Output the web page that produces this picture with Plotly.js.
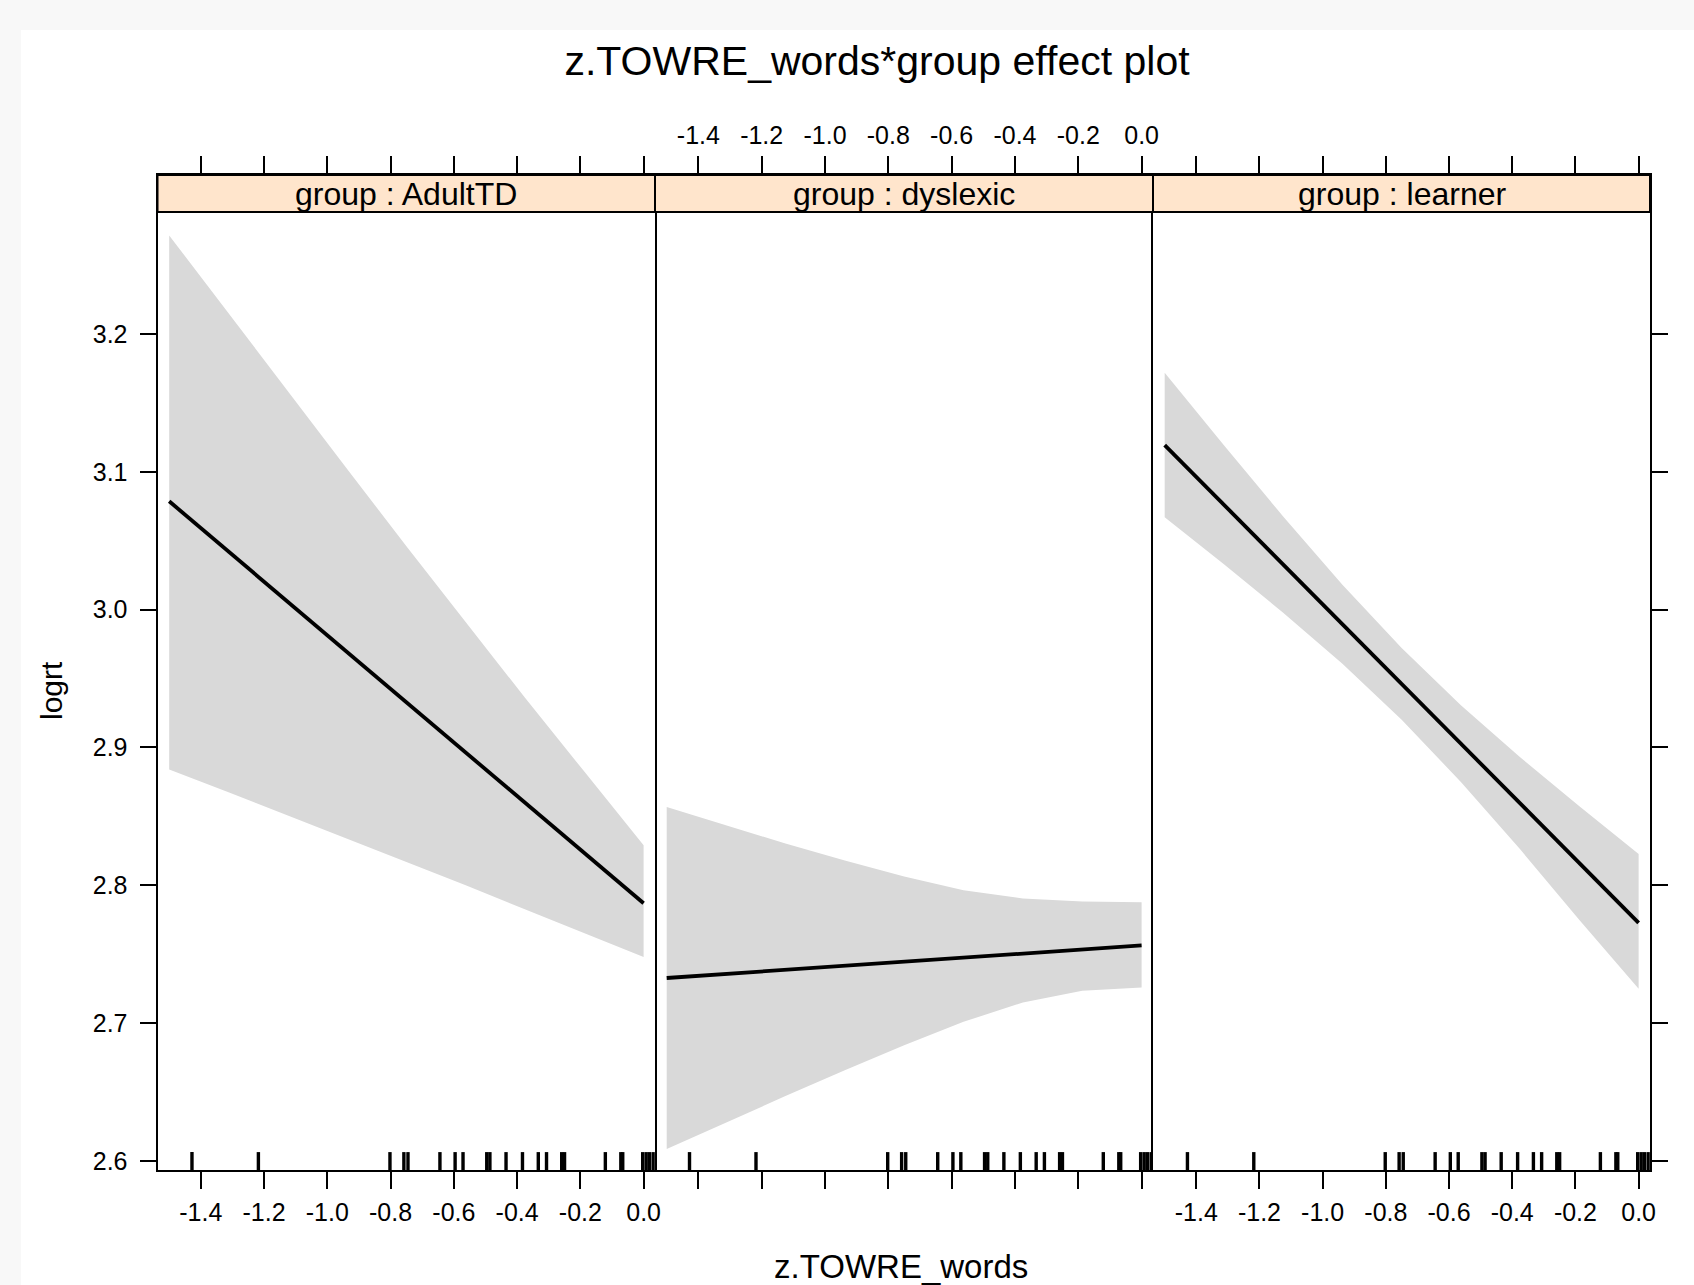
<!DOCTYPE html>
<html>
<head>
<meta charset="utf-8">
<script src="https://cdn.plot.ly/plotly-3.0.1.min.js"></script>
<style>html,body{margin:0;padding:0;background:#f8f8f8;}</style>
</head>
<body>
<div id="chart" style="width:1694px;height:1285px;"></div>
<script>
// ---- data ----
const groups = ["AdultTD", "dyslexic", "learner"];
const stripLabels = ["group : AdultTD", "group : dyslexic", "group : learner"];
const xGrid = [-1.5, -1.3125, -1.125, -0.9375, -0.75, -0.5625, -0.375, -0.1875, 0.0];

const fitAdultTD   = [3.0786, 3.0421, 3.0057, 2.9692, 2.9328, 2.8963, 2.8599, 2.8234, 2.7870];
const upperAdultTD = [3.2715, 3.2148, 3.1580, 3.1020, 3.0460, 2.9910, 2.9360, 2.8825, 2.8290];
const lowerAdultTD = [2.8840, 2.8675, 2.8510, 2.8340, 2.8170, 2.8000, 2.7830, 2.7655, 2.7480];

const fitDyslexic   = [2.7328, 2.7358, 2.7387, 2.7417, 2.7446, 2.7476, 2.7505, 2.7535, 2.7564];
const upperDyslexic = [2.8568, 2.8435, 2.8303, 2.8180, 2.8065, 2.7965, 2.7905, 2.7882, 2.7877];
const lowerDyslexic = [2.6088, 2.6281, 2.6471, 2.6659, 2.6840, 2.7010, 2.7150, 2.7235, 2.7258];

const fitLearner   = [3.1194, 3.0761, 3.0327, 2.9894, 2.9461, 2.9028, 2.8595, 2.8161, 2.7728];
const upperLearner = [3.1718, 3.1192, 3.0676, 3.0181, 2.9721, 2.9306, 2.8929, 2.8574, 2.8228];
const lowerLearner = [3.0670, 3.0330, 2.9978, 2.9607, 2.9201, 2.8750, 2.8261, 2.7748, 2.7250];

const rugValues = [-1.428, -1.218, -0.802, -0.758, -0.745, -0.644, -0.596, -0.571,
                   -0.496, -0.486, -0.435, -0.383, -0.333, -0.307, -0.259, -0.250,
                   -0.121, -0.072, -0.066, -0.003, 0.008, 0.018, 0.030];

const xTickVals = [-1.4, -1.2, -1.0, -0.8, -0.6, -0.4, -0.2, 0.0];
const xTickText = ["-1.4", "-1.2", "-1.0", "-0.8", "-0.6", "-0.4", "-0.2", "0.0"];
const yTickVals = [2.6, 2.7, 2.8, 2.9, 3.0, 3.1, 3.2];
const yTickText = ["2.6", "2.7", "2.8", "2.9", "3.0", "3.1", "3.2"];

const chartTitle = "z.TOWRE_words*group effect plot";
const xTitle = "z.TOWRE_words";
const yTitle = "logrt";

// ---- layout geometry ----
const W = 1694, H = 1285;
const fx = p => p / W;
const fy = p => 1 - p / H;
const panelEdges = [157.5, 655, 1153, 1650];
const plotTop = 175, stripBottom = 212, plotBottom = 1170;
const xRange = [-1.537, 0.036];
const yRange = [2.5935, 3.3153];
const FONT = "Liberation Sans, Arial, Helvetica, sans-serif";

const fits = [fitAdultTD, fitDyslexic, fitLearner];
const uppers = [upperAdultTD, upperDyslexic, upperLearner];
const lowers = [lowerAdultTD, lowerDyslexic, lowerLearner];

const rugBottom = yRange[0];
const rugTop = yRange[0] + (yRange[1] - yRange[0]) * 0.018;
const rugX = [], rugY = [];
rugValues.forEach(v => { rugX.push(v, v, null); rugY.push(rugBottom, rugTop, null); });

const traces = [];
groups.forEach((g, i) => {
  const xa = i === 0 ? "x" : "x" + (i + 1);
  const ya = i === 0 ? "y" : "y" + (i + 1);
  traces.push({
    type: "scatter", mode: "lines", xaxis: xa, yaxis: ya,
    x: xGrid.concat(xGrid.slice().reverse()),
    y: uppers[i].concat(lowers[i].slice().reverse()),
    fill: "toself", fillcolor: "#d9d9d9", line: {width: 0, color: "rgba(0,0,0,0)"},
    hoverinfo: "skip", showlegend: false, name: g + " band"
  });
  traces.push({
    type: "scatter", mode: "lines", xaxis: xa, yaxis: ya,
    x: xGrid, y: fits[i], line: {color: "#000000", width: 3.8},
    showlegend: false, name: g
  });
  traces.push({
    type: "scatter", mode: "lines", xaxis: xa, yaxis: ya,
    x: rugX, y: rugY, line: {color: "#000000", width: 3.4},
    hoverinfo: "skip", showlegend: false, name: g + " rug", connectgaps: false
  });
});

const common = {
  range: xRange, tickmode: "array", tickvals: xTickVals, ticktext: xTickText,
  ticks: "outside", ticklen: 17, tickwidth: 2, tickcolor: "#000",
  showline: true, linecolor: "#000", linewidth: 2, mirror: "ticks",
  showgrid: false, zeroline: false, fixedrange: true,
  tickfont: {family: FONT, size: 25, color: "#000"}, ticklabelstandoff: 2
};

const layout = {
  width: W, height: H,
  margin: {l: 0, r: 0, t: 0, b: 0},
  paper_bgcolor: "#f8f8f8", plot_bgcolor: "#ffffff",
  showlegend: false,
  title: {text: chartTitle, x: fx(877), xanchor: "center", y: fy(61), yanchor: "middle",
          font: {family: FONT, size: 41, color: "#000"}},
  xaxis:  Object.assign({}, common, {domain: [fx(panelEdges[0]), fx(panelEdges[1])], anchor: "y", side: "bottom"}),
  xaxis2: Object.assign({}, common, {domain: [fx(panelEdges[1]), fx(panelEdges[2])], anchor: "y2", side: "top"}),
  xaxis3: Object.assign({}, common, {domain: [fx(panelEdges[2]), fx(panelEdges[3])], anchor: "y3", side: "bottom"}),
  yaxis: {
    domain: [fy(plotBottom), fy(plotTop)], range: yRange, anchor: "x", side: "left",
    tickmode: "array", tickvals: yTickVals, ticktext: yTickText,
    ticks: "outside", ticklen: 16, tickwidth: 2, tickcolor: "#000",
    showline: true, linecolor: "#000", linewidth: 2, mirror: true,
    showgrid: false, zeroline: false, fixedrange: true,
    tickfont: {family: FONT, size: 25, color: "#000"}, ticklabelstandoff: 7
  },
  yaxis2: {
    domain: [fy(plotBottom), fy(plotTop)], range: yRange, anchor: "x2",
    showticklabels: false, ticks: "", showline: false,
    showgrid: false, zeroline: false, fixedrange: true
  },
  yaxis3: {
    domain: [fy(plotBottom), fy(plotTop)], range: yRange, anchor: "x3", side: "right",
    tickmode: "array", tickvals: yTickVals, showticklabels: false,
    ticks: "outside", ticklen: 16, tickwidth: 2, tickcolor: "#000",
    showline: true, linecolor: "#000", linewidth: 2, mirror: true,
    showgrid: false, zeroline: false, fixedrange: true
  },
  shapes: [
    {type: "rect", xref: "paper", yref: "paper", x0: fx(21), x1: 1, y0: 0, y1: fy(30),
     fillcolor: "#ffffff", line: {width: 0}, layer: "below"}
  ],
  annotations: [
    {text: xTitle, xref: "paper", yref: "paper", x: fx(901), y: fy(1266), showarrow: false,
     xanchor: "center", yanchor: "middle", font: {family: FONT, size: 33, color: "#000"}},
    {text: yTitle, xref: "paper", yref: "paper", x: fx(51), y: fy(691), showarrow: false,
     textangle: -90, xanchor: "center", yanchor: "middle", font: {family: FONT, size: 30, color: "#000"}}
  ]
};

stripLabels.forEach((lab, i) => {
  layout.shapes.push({
    type: "rect", xref: "paper", yref: "paper",
    x0: fx(panelEdges[i]), x1: fx(panelEdges[i + 1]), y0: fy(stripBottom), y1: fy(plotTop),
    fillcolor: "#ffe5cc", line: {color: "#000", width: 2}, layer: "above"
  });
  layout.annotations.push({
    text: lab, xref: "paper", yref: "paper",
    x: fx((panelEdges[i] + panelEdges[i + 1]) / 2), y: fy((plotTop + stripBottom) / 2),
    showarrow: false, xanchor: "center", yanchor: "middle",
    font: {family: FONT, size: 32, color: "#000"}
  });
});

Plotly.newPlot("chart", traces, layout, {displayModeBar: false, staticPlot: true});
</script>
</body>
</html>
